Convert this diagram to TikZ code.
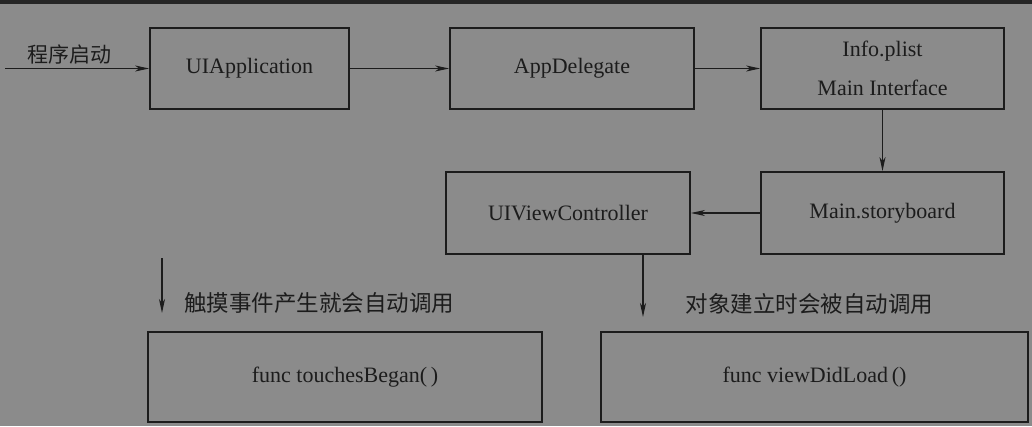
\documentclass[tikz,border=0pt]{standalone}
\usepackage{fontspec}
\setmainfont{Liberation Serif}
\newfontfamily\cjk{Noto Sans CJK SC}
\usetikzlibrary{arrows.meta}
\definecolor{bg}{HTML}{8B8B8B}
\definecolor{ink}{HTML}{1C1C1C}
\definecolor{band}{HTML}{262626}
\begin{document}
\begin{tikzpicture}[x=1pt,y=1pt,
  box/.style={draw=ink,line width=1.8pt,inner sep=0pt,text=ink,
    font=\fontsize{22}{26}\selectfont},
  conn/.style={draw=ink,line width=1.2pt,-{Stealth[length=14pt,width=6pt,inset=4pt]}},
  lbl/.style={text=ink,inner sep=0pt}]
\fill[bg] (0,0) rectangle (1032,426);
\fill[band] (0,422) rectangle (1032,426);
\useasboundingbox (0,0) rectangle (1032,426);
\node[box,minimum width=199pt,minimum height=81pt] (app) at (249.5,357.5) {UIApplication};
\node[box,minimum width=244pt,minimum height=81pt] (adel) at (572,357.5) {AppDelegate};
\node[box,minimum width=243pt,minimum height=81pt,align=center] (info) at (882.5,357.5) {Info.plist\\[13pt]Main Interface};
\node[box,minimum width=243pt,minimum height=82pt] (story) at (882.5,213) {Main.storyboard};
\node[box,minimum width=244pt,minimum height=82pt] (vc) at (568,213) {UIViewController};
\node[box,minimum width=394pt,minimum height=90pt] (touch) at (345,49) {func touchesBegan(\,)};
\node[box,minimum width=427pt,minimum height=90pt] (vdl) at (814.5,49) {func viewDidLoad\,()};
\node[lbl,font=\cjk\fontsize{21}{25}\selectfont] (start) at (69.5,371) {程序启动};
\node[lbl,font=\cjk\fontsize{22.5}{27}\selectfont] (touchlbl) at (319,123) {触摸事件产生就会自动调用};
\node[lbl,font=\cjk\fontsize{22.5}{27}\selectfont] (vdllbl) at (809.5,122) {对象建立时会被自动调用};
\coordinate (in) at (5,357.5);
\coordinate (ltop) at (162,168);
\coordinate (lbot) at (162,113);
\coordinate (vcdown) at (643,109);
\draw[conn] (in) -- (app.west);
\draw[conn] (app.east) -- (adel.west);
\draw[conn] (adel.east) -- (info.west);
\draw[conn] (info.south) -- (story.north);
\draw[conn] (story.west) -- (vc.east);
\draw[conn] (vc.south -| vcdown) -- (vcdown);
\draw[conn] (ltop) -- (lbot);
\end{tikzpicture}
\end{document}
